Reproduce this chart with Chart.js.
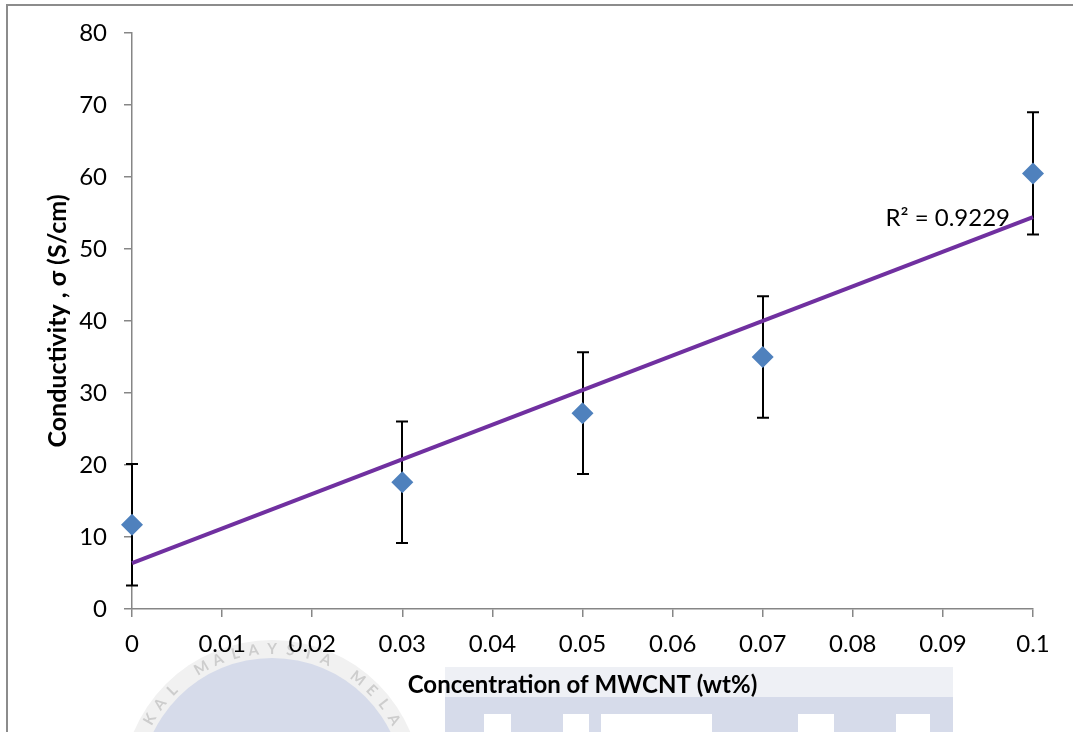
<!DOCTYPE html>
<html>
<head>
<meta charset="utf-8">
<script src="https://cdn.jsdelivr.net/npm/chart.js@4.4.0/dist/chart.umd.min.js"></script>
<style>
  html, body { margin: 0; padding: 0; background: #ffffff; overflow: hidden; }
  canvas { display: block; }
</style>
</head>
<body>
<canvas id="c" width="1073" height="732"></canvas>
<script>
// ---- data ----
const concentrations = [0, 0.03, 0.05, 0.07, 0.1];        // wt%
const conductivity   = [11.7, 17.6, 27.2, 35.0, 60.5];     // S/cm
const errorValues    = [8.45, 8.45, 8.45, 8.45, 8.5];      // +/- error
const rSquaredLabel  = 'R² = 0.9229';
const xTitle = 'Concentration of MWCNT (wt%)';
const yTitle = 'Conductivity , σ (S/cm)';
const xMin = 0, xMax = 0.1, xStep = 0.01;
const yMin = 0, yMax = 80, yStep = 10;
const watermarkRing = 'KAL MALAYSIA MELA';

// linear least-squares trend line from the data
const n = concentrations.length;
const mx = concentrations.reduce((a, b) => a + b, 0) / n;
const my = conductivity.reduce((a, b) => a + b, 0) / n;
let sxx = 0, sxy = 0;
for (let i = 0; i < n; i++) {
  sxx += (concentrations[i] - mx) ** 2;
  sxy += (concentrations[i] - mx) * (conductivity[i] - my);
}
const slope = sxy / sxx;
const intercept = my - slope * mx;
const trendX = [concentrations[0], concentrations[n - 1]];
const trendPoints = trendX.map(x => ({ x: x, y: intercept + slope * x }));
const points = concentrations.map((x, i) => ({ x: x, y: conductivity[i] }));

const FONT = 'Lato, "Open Sans", sans-serif';

const backgroundPlugin = {
  id: 'bg',
  beforeDraw(chart) {
    const ctx = chart.ctx;
    ctx.save();
    // faint watermark: ring + circle
    const cx = 272, cy = 790;
    ctx.fillStyle = '#f1f1f1';
    ctx.beginPath(); ctx.arc(cx, cy, 150, 0, Math.PI * 2); ctx.fill();
    ctx.fillStyle = '#d6dbea';
    ctx.beginPath(); ctx.arc(cx, cy, 132, 0, Math.PI * 2); ctx.fill();
    ctx.fillStyle = '#cdcdcd';
    ctx.font = 'bold 15px ' + FONT;
    ctx.textAlign = 'center';
    ctx.textBaseline = 'middle';
    const chars = watermarkRing.split('');
    const a0 = -60, a1 = 60;
    chars.forEach((ch, i) => {
      const ang = (a0 + (a1 - a0) * i / (chars.length - 1)) * Math.PI / 180;
      const r = 141;
      ctx.save();
      ctx.translate(cx + r * Math.sin(ang), cy - r * Math.cos(ang));
      ctx.rotate(ang);
      ctx.fillText(ch, 0, 0);
      ctx.restore();
    });
    // watermark rectangles
    ctx.fillStyle = '#eef0f5';
    ctx.fillRect(445, 667, 508, 30);
    ctx.fillStyle = '#d6dbea';
    ctx.fillRect(445, 697, 508, 35);
    ctx.fillStyle = '#ffffff';
    [[484, 27], [563, 26], [601, 111], [798, 36], [896, 34]].forEach(r => {
      ctx.fillRect(r[0], 714, r[1], 18);
    });
    // frame
    ctx.strokeStyle = '#8c8c8c';
    ctx.lineWidth = 2;
    ctx.beginPath();
    ctx.moveTo(7, 732);
    ctx.lineTo(7, 5);
    ctx.lineTo(1073, 5);
    ctx.stroke();
    ctx.restore();
  }
};

const errorBarPlugin = {
  id: 'errbars',
  beforeDatasetsDraw(chart) {
    const ctx = chart.ctx;
    const xs = chart.scales.x, ys = chart.scales.y;
    ctx.save();
    ctx.strokeStyle = '#000000';
    ctx.lineWidth = 2;
    for (let i = 0; i < n; i++) {
      const px = Math.round(xs.getPixelForValue(concentrations[i]));
      const top = ys.getPixelForValue(conductivity[i] + errorValues[i]);
      const bot = ys.getPixelForValue(conductivity[i] - errorValues[i]);
      ctx.beginPath();
      ctx.moveTo(px, top); ctx.lineTo(px, bot);
      ctx.moveTo(px - 6, top); ctx.lineTo(px + 6, top);
      ctx.moveTo(px - 6, bot); ctx.lineTo(px + 6, bot);
      ctx.stroke();
    }
    ctx.restore();
  }
};

const labelPlugin = {
  id: 'r2label',
  afterDatasetsDraw(chart) {
    const ctx = chart.ctx;
    const xs = chart.scales.x, ys = chart.scales.y;
    ctx.save();
    ctx.fillStyle = '#000000';
    ctx.font = '24px ' + FONT;
    ctx.textAlign = 'right';
    ctx.textBaseline = 'middle';
    const lx = xs.getPixelForValue(xMax) - 23;
    const ly = ys.getPixelForValue(intercept + slope * xMax) + 1;
    ctx.fillText(rSquaredLabel, lx, ly);
    ctx.restore();
  }
};

new Chart(document.getElementById('c'), {
  type: 'scatter',
  data: {
    datasets: [
      {
        label: 'Trend',
        type: 'line',
        data: trendPoints,
        borderColor: '#7030a0',
        borderWidth: 4,
        pointRadius: 0,
        fill: false,
        clip: false,
        order: 0
      },
      {
        label: 'Conductivity',
        data: points,
        pointStyle: 'rectRot',
        pointRadius: 11,
        pointHoverRadius: 11,
        backgroundColor: '#4f81bd',
        borderColor: '#4f81bd',
        borderWidth: 0,
        clip: false,
        order: 1
      }
    ]
  },
  options: {
    responsive: false,
    animation: false,
    events: [],
    devicePixelRatio: 1,
    layout: { padding: { left: 0, top: 33, right: 40, bottom: 0 } },
    plugins: {
      legend: { display: false },
      tooltip: { enabled: false },
      title: { display: false }
    },
    scales: {
      x: {
        type: 'linear',
        min: xMin, max: xMax,
        afterFit(scale) { scale.height = 123; },
        afterBuildTicks(scale) {
          const t = [];
          for (let v = xMin; v <= xMax + 1e-9; v += xStep) t.push({ value: +v.toFixed(2) });
          scale.ticks = t;
        },
        ticks: {
          stepSize: xStep,
          padding: 13,
          color: '#000000',
          font: { family: FONT, size: 24 },
          maxRotation: 0,
          autoSkip: false,
          callback: (v) => String(+Number(v).toFixed(2))
        },
        grid: { drawOnChartArea: false, drawTicks: true, tickLength: 8, color: '#868686', lineWidth: 1.5 },
        border: { display: true, color: '#868686', width: 1.5 },
        title: {
          display: true, text: xTitle, color: '#000000',
          font: { family: FONT, size: 24, weight: 'bold' },
          padding: { top: 0, bottom: 32 }
        }
      },
      y: {
        type: 'linear',
        min: yMin, max: yMax,
        afterFit(scale) { scale.width = 132; },
        ticks: {
          stepSize: yStep,
          padding: 17,
          color: '#000000',
          font: { family: FONT, size: 24 }
        },
        grid: { drawOnChartArea: false, drawTicks: true, tickLength: 8, color: '#868686', lineWidth: 1.5 },
        border: { display: true, color: '#868686', width: 1.5 },
        title: {
          display: true, text: yTitle, color: '#000000',
          font: { family: FONT, size: 25, weight: 'bold' },
          padding: { top: 43, bottom: 0 }
        }
      }
    }
  },
  plugins: [backgroundPlugin, errorBarPlugin, labelPlugin]
});
</script>
</body>
</html>
